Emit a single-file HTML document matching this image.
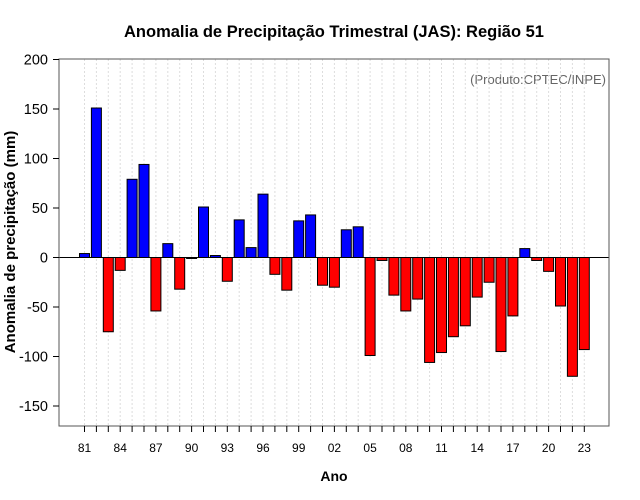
<!DOCTYPE html>
<html><head><meta charset="utf-8"><style>
body{margin:0;background:#fff;}
svg{display:block;font-family:"Liberation Sans",sans-serif;}
</style></head><body>
<svg id="c" width="640" height="500">
<text x="334" y="37" text-anchor="middle" font-size="16.5" font-weight="bold">Anomalia de Precipitação Trimestral (JAS): Região 51</text>
<text x="334" y="481" text-anchor="middle" font-size="14" font-weight="bold">Ano</text>
<text transform="translate(15,242) rotate(-90)" text-anchor="middle" font-size="15" font-weight="bold">Anomalia de precipitação (mm)</text>
<text x="606" y="84" text-anchor="end" font-size="13" fill="#666">(Produto:CPTEC/INPE)</text>
<g id="grid"></g><g id="bars"></g><g id="axes"></g>
</svg>
<script>
const years=[81,82,83,84,85,86,87,88,89,90,91,92,93,94,95,96,97,98,99,0,1,2,3,4,5,6,7,8,9,10,11,12,13,14,15,16,17,18,19,20,21,22,23];
const values=[4,151,-75,-13,79,94,-54,14,-32,-1,51,2,-24,38,10,64,-17,-33,37,43,-28,-30,28,31,-99,-3,-38,-54,-42,-106,-96,-80,-69,-40,-25,-95,-59,9,-3,-14,-49,-120,-93];
const yTicks=[200,150,100,50,0,-50,-100,-150];
const xTickLabels=["81","84","87","90","93","96","99","02","05","08","11","14","17","20","23"];
const NS="http://www.w3.org/2000/svg";
const L=59,R=609,T=59,B=426;
function x(i){return 84.5+i*11.9;}
function y(v){return 257.5-v*0.99;}
function mk(tag,attrs,parent){const e=document.createElementNS(NS,tag);for(const k in attrs)e.setAttribute(k,attrs[k]);document.getElementById(parent).appendChild(e);return e;}
years.forEach((yr,i)=>{
  const g=mk('line',{x1:x(i),x2:x(i),y1:T,y2:B,stroke:'#ddd','stroke-dasharray':'2,2'},'grid');
  
  
});
const z=mk('line',{x1:L,x2:R,y1:y(0),y2:y(0),stroke:'#000'},'grid');


values.forEach((v,i)=>{
  const top=Math.min(y(v),y(0)),h=Math.abs(y(v)-y(0));
  const b=mk('rect',{x:x(i)-5,y:top,width:10,height:Math.max(h,0.5),fill:v>=0?'#0000ff':'#ff0000',stroke:'#000','stroke-width':1},'bars');
  
  
});
const f=mk('rect',{x:L,y:T,width:R-L,height:B-T,fill:'none',stroke:'#555'},'axes');


yTicks.forEach(t=>{
  mk('line',{x1:L-6,x2:L,y1:y(t),y2:y(t),stroke:'#000'},'axes');
  const tx=mk('text',{x:L-11,y:y(t)+5,'text-anchor':'end','font-size':14.5},'axes');
  tx.textContent=t;
  
  
});
years.forEach((yr,i)=>{
  mk('line',{x1:x(i),x2:x(i),y1:B,y2:B+6,stroke:'#000'},'axes');
});
xTickLabels.forEach((lb,k)=>{
  const tx=mk('text',{x:x(k*3),y:452,'text-anchor':'middle','font-size':12},'axes');
  tx.textContent=lb;
  
  
});
</script>
</body></html>
